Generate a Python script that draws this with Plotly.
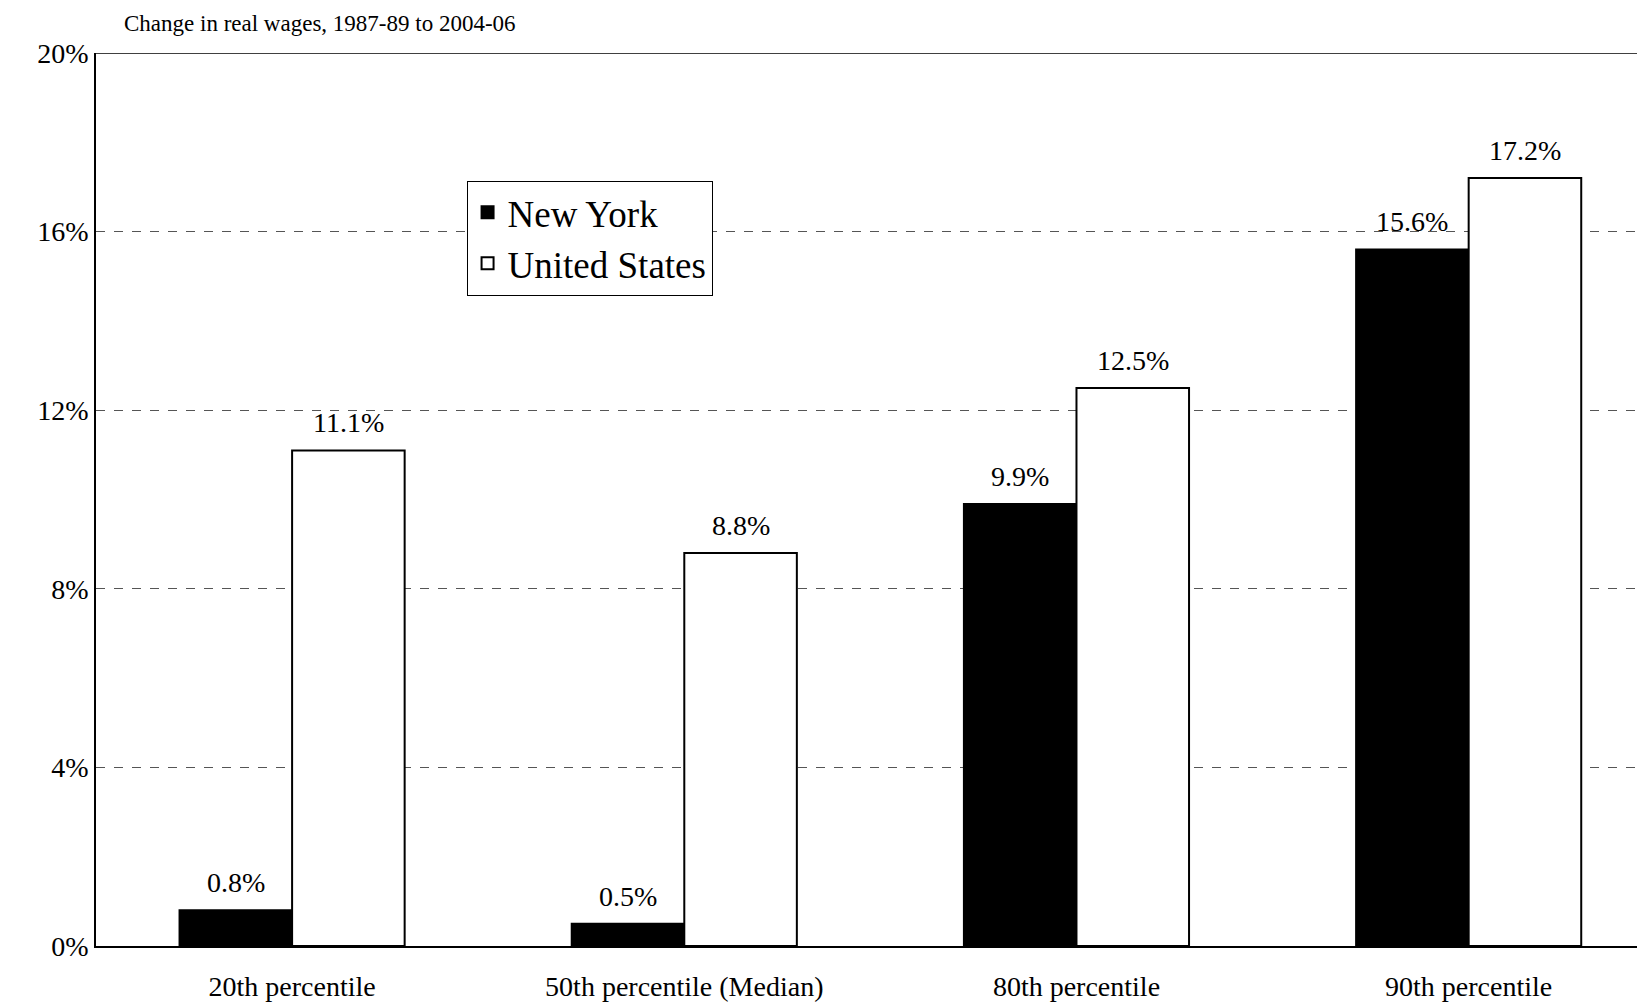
import plotly.graph_objects as go

categories = ["20th percentile", "50th percentile (Median)", "80th percentile", "90th percentile"]
new_york = [0.8, 0.5, 9.9, 15.6]
united_states = [11.1, 8.8, 12.5, 17.2]
y_ticks = [0, 4, 8, 12, 16, 20]
y_tick_labels = ["0%", "4%", "8%", "12%", "16%", "20%"]

font = "Liberation Serif"
fig = go.Figure()
fig.add_bar(x=categories, y=new_york, name="New York", marker=dict(color="black", line=dict(color="black", width=2)))
fig.add_bar(x=categories, y=united_states, name="United States", marker=dict(color="white", line=dict(color="black", width=2)))

ann = [dict(text="Change in real wages, 1987-89 to 2004-06", xref="paper", yref="paper", x=0.017, y=1.0,
            yshift=30, xanchor="left", yanchor="middle", showarrow=False, font=dict(size=23, family=font))]
for i, c in enumerate(categories):
    for vals, dx in ((new_york, -0.1435), (united_states, 0.1435)):
        ann.append(dict(x=i + dx, y=vals[i], xref="x", yref="y", text=f"{vals[i]}%", showarrow=False,
                        yanchor="bottom", yshift=10, font=dict(size=28, family=font)))

fig.update_layout(
    width=1645, height=1008, plot_bgcolor="white", paper_bgcolor="white",
    margin=dict(l=88, r=0, t=45, b=70),
    barmode="group", bargap=0.426, bargroupgap=0,
    font=dict(family=font, color="black", size=28),
    showlegend=True,
    legend=dict(x=0.238, y=0.857, xanchor="left", yanchor="top", bordercolor="black", borderwidth=1,
                bgcolor="white", font=dict(size=37, family=font), itemwidth=30, tracegroupgap=0),
    annotations=ann,
    shapes=[dict(type="line", xref="paper", yref="y", x0=0, x1=1, y0=20, y1=20, line=dict(color="black", width=1.5))],
)
fig.update_xaxes(type="category", range=[-0.5, 3.47], showline=True, linecolor="black", linewidth=2, ticks="outside", ticklen=14,
                 tickcolor="white", tickfont=dict(size=28))
fig.update_yaxes(range=[0, 20], tickvals=y_ticks, ticktext=y_tick_labels, showline=True, linecolor="black", linewidth=1.5,
                 showgrid=True, gridcolor="#555", griddash="dash", gridwidth=1, zeroline=False, tickfont=dict(size=28),
                 ticks="outside", ticklen=0)
fig.write_html("out.html")
